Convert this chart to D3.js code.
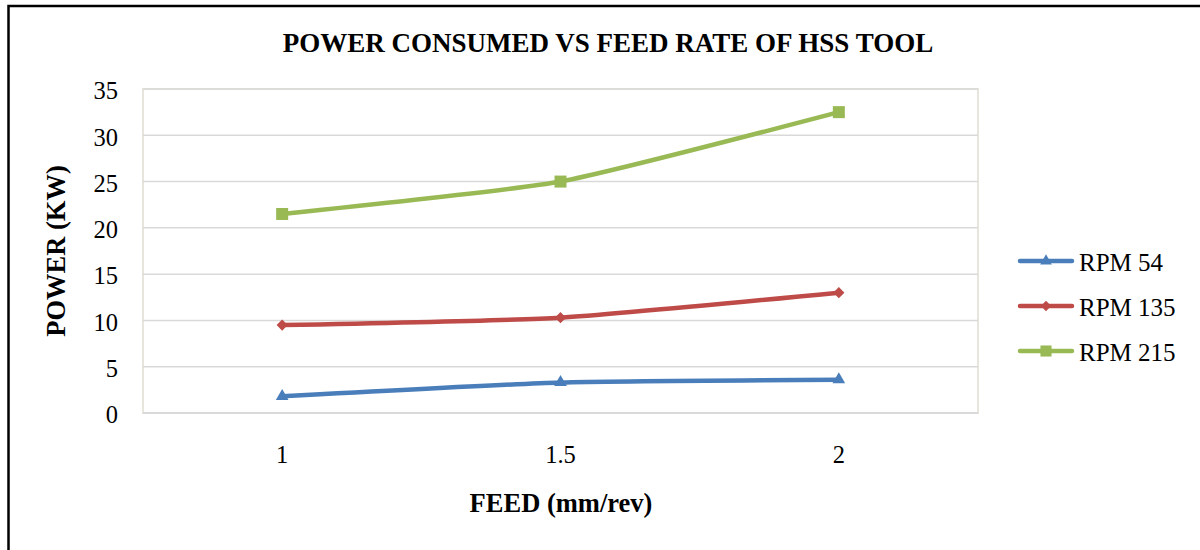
<!DOCTYPE html>
<html><head><meta charset="utf-8">
<script src="https://cdn.jsdelivr.net/npm/d3@7"></script>
<style>body{margin:0;background:#fff}svg{display:block}</style>
</head><body>
<svg id="c" width="1200" height="550"></svg>
<script>
const categories = ["1", "1.5", "2"];
const rpm54 = [1.8, 3.3, 3.6];
const rpm135 = [9.5, 10.3, 13.0];
const rpm215 = [21.5, 25.0, 32.5];
const seriesNames = ["RPM 54", "RPM 135", "RPM 215"];
const yTicks = [0, 5, 10, 15, 20, 25, 30, 35];

const series = [
  {name: seriesNames[0], values: rpm54, color: "#4a7ebb", marker: "triangle"},
  {name: seriesNames[1], values: rpm135, color: "#be4b48", marker: "diamond"},
  {name: seriesNames[2], values: rpm215, color: "#98b954", marker: "square"}
];

const svg = d3.select("#c");
const font = "Liberation Serif, Times New Roman, serif";
const L = 143, R = 978, T = 89, B = 413;

// outer border
svg.append("rect").attr("x", 8.5).attr("y", 6).attr("width", 1200).attr("height", 560)
  .attr("fill", "none").attr("stroke", "#000").attr("stroke-width", 2.5);

const x = d3.scaleBand().domain(categories).range([L, R]);
const y = d3.scaleLinear().domain([0, 35]).range([B, T]);

// plot area border
svg.append("rect").attr("x", L).attr("y", T).attr("width", R - L).attr("height", B - T)
  .attr("fill", "#fff").attr("stroke", "#e8e5dc").attr("stroke-width", 2);

// gridlines
svg.append("g").selectAll("line").data(yTicks.slice(1)).join("line")
  .attr("x1", L).attr("x2", R).attr("y1", d => y(d)).attr("y2", d => y(d))
  .attr("stroke", "#d9d9d9").attr("stroke-width", 1.5);
svg.append("line").attr("x1", L).attr("x2", R).attr("y1", y(0)).attr("y2", y(0))
  .attr("stroke", "#d9d9d9").attr("stroke-width", 2);

// y axis labels
const yAxis = d3.axisLeft(y).tickValues(yTicks).tickSize(0).tickPadding(0).tickFormat(d3.format("d"));
const yg = svg.append("g").attr("transform", `translate(${118},0)`).call(yAxis);
yg.select(".domain").remove();
yg.selectAll("text").attr("font-family", font).attr("font-size", 24.5).attr("fill", "#000").attr("dy", "0.4em");

// x axis labels
const xAxis = d3.axisBottom(x).tickSize(0).tickPadding(0);
const xg = svg.append("g").attr("transform", `translate(0,${463})`).call(xAxis);
xg.select(".domain").remove();
xg.selectAll("text").attr("font-family", font).attr("font-size", 24.5).attr("fill", "#000").attr("dy", 0).attr("y", 0);

// lines
const cx = (i) => x(categories[i]) + x.bandwidth() / 2;
const line = d3.line().x((d, i) => cx(i)).y(d => y(d)).curve(d3.curveCardinal.tension(0.5));

const diamond = {draw(ctx, size) { const r = Math.sqrt(size / 2); ctx.moveTo(0, -r); ctx.lineTo(r, 0); ctx.lineTo(0, r); ctx.lineTo(-r, 0); ctx.closePath(); }};
const sym = {triangle: d3.symbolTriangle, diamond: diamond, square: d3.symbolSquare};
const symSize = {triangle: 70, diamond: 62, square: 144};

series.forEach(s => {
  svg.append("path").attr("d", line(s.values)).attr("fill", "none")
    .attr("stroke", s.color).attr("stroke-width", 4.5).attr("stroke-linejoin", "round").attr("stroke-linecap", "round");
  svg.append("g").selectAll("path").data(s.values).join("path")
    .attr("d", d3.symbol().type(sym[s.marker]).size(symSize[s.marker]))
    .attr("transform", (d, i) => `translate(${cx(i)},${y(d)})`)
    .attr("fill", s.color);
});

// title
svg.append("text").attr("x", 608).attr("y", 52).attr("text-anchor", "middle")
  .attr("font-family", font).attr("font-weight", "bold").attr("font-size", 27)
  .text("POWER CONSUMED VS FEED RATE OF HSS TOOL");

// axis titles
svg.append("text").attr("x", 561).attr("y", 512).attr("text-anchor", "middle")
  .attr("font-family", font).attr("font-weight", "bold").attr("font-size", 26.5)
  .text("FEED (mm/rev)");
svg.append("text").attr("transform", "translate(65,251) rotate(-90)").attr("text-anchor", "middle")
  .attr("font-family", font).attr("font-weight", "bold").attr("font-size", 26.5)
  .text("POWER (KW)");

// legend
const lg = svg.append("g");
series.forEach((s, i) => {
  const yy = 261 + i * 45;
  lg.append("line").attr("x1", 1020).attr("x2", 1072).attr("y1", yy).attr("y2", yy)
    .attr("stroke", s.color).attr("stroke-width", 4.5).attr("stroke-linecap", "round");
  lg.append("path").attr("d", d3.symbol().type(sym[s.marker]).size(symSize[s.marker] * 0.85)())
    .attr("transform", `translate(1046,${yy})`).attr("fill", s.color);
  lg.append("text").attr("x", 1079).attr("y", yy + 10).attr("font-family", font).attr("font-size", 25)
    .text(s.name);
});
</script>
</body></html>
